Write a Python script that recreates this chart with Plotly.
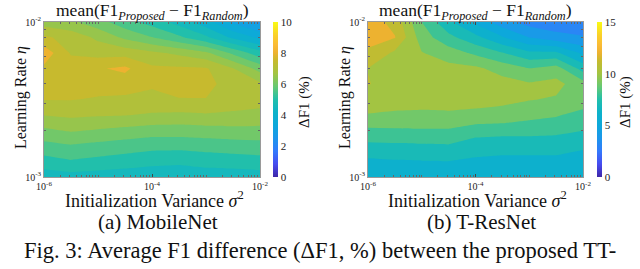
import plotly.graph_objects as go

# ---------------- data ----------------
init_variance = [1e-6, 3.1623e-6, 1e-5, 3.1623e-5, 1e-4, 3.1623e-4, 1e-3, 3.1623e-3, 1e-2]
learning_rate = [1e-3, 1.2589e-3, 1.5849e-3, 1.9953e-3, 2.5119e-3, 3.1623e-3,
                 3.9811e-3, 5.0119e-3, 6.3096e-3, 7.9433e-3, 1e-2]

# mean(F1_Proposed - F1_Random), rows = learning rate (low -> high), cols = variance
mobilenet_df1 = [
    [4.70, 4.80, 4.75, 4.70, 4.65, 4.65, 4.70, 4.70, 4.75],
    [5.30, 5.45, 5.35, 5.25, 5.15, 5.10, 5.20, 5.25, 5.30],
    [5.82, 5.95, 5.85, 5.75, 5.65, 5.65, 5.70, 5.75, 5.80],
    [6.40, 6.55, 6.45, 6.35, 6.25, 6.25, 6.30, 6.35, 6.35],
    [7.02, 7.10, 7.05, 7.02, 6.95, 6.90, 6.95, 6.90, 6.85],
    [7.52, 7.52, 7.45, 7.40, 7.30, 7.48, 7.49, 7.30, 7.20],
    [7.70, 7.70, 7.70, 7.75, 7.60, 7.65, 7.60, 7.35, 7.10],
    [7.90, 7.75, 7.95, 8.10, 7.60, 7.58, 7.55, 7.02, 6.30],
    [8.30, 7.45, 7.30, 7.30, 7.10, 6.90, 6.60, 5.90, 5.20],
    [7.60, 7.30, 6.90, 6.40, 6.02, 5.60, 5.10, 4.40, 3.90],
    [6.75, 6.60, 6.20, 5.70, 5.30, 4.80, 4.20, 3.40, 2.80],
]

tresnet_df1 = [
    [6.40, 6.30, 6.35, 6.40, 6.40, 6.40, 6.40, 6.40, 6.40],
    [6.80, 6.90, 6.95, 6.98, 6.85, 6.80, 6.80, 6.80, 6.70],
    [7.75, 7.80, 7.85, 7.90, 7.40, 7.30, 7.30, 7.30, 7.10],
    [8.80, 8.85, 8.90, 8.90, 8.50, 8.40, 8.40, 8.30, 8.02],
    [9.95, 9.85, 9.80, 9.85, 9.75, 9.70, 9.30, 9.10, 8.65],
    [10.50, 10.40, 10.40, 10.40, 10.35, 10.20, 10.05, 9.90, 9.60],
    [11.05, 10.60, 10.50, 10.50, 10.45, 10.40, 10.10, 10.30, 9.40],
    [10.98, 10.70, 10.40, 10.30, 10.20, 9.60, 9.02, 9.45, 7.60],
    [11.90, 10.80, 10.05, 9.50, 8.80, 8.05, 7.20, 7.20, 5.80],
    [12.20, 12.05, 9.50, 8.30, 7.30, 6.10, 5.00, 4.40, 4.10],
    [12.50, 11.70, 9.00, 7.20, 5.80, 4.40, 3.60, 3.30, 3.20],
]

x_ticks = [1e-6, 1e-4, 1e-2]
x_tick_text = ["10<sup>-6</sup>", "10<sup>-4</sup>", "10<sup>-2</sup>"]
y_ticks = [1e-3, 1e-2]
y_tick_text = ["10<sup>-3</sup>", "10<sup>-2</sup>"]
x_minor = [m * d for d in [1e-6, 1e-5, 1e-4, 1e-3] for m in range(2, 11)]
y_minor = [m * 1e-3 for m in range(2, 10)]

cbar_left_ticks = [0, 2, 4, 6, 8, 10]
cbar_right_ticks = [0, 5, 10, 15]

# MATLAB parula approximation
PARULA = [
    (0.000, (0.2422, 0.1504, 0.6603)),
    (0.083, (0.2780, 0.3000, 0.9400)),
    (0.167, (0.2000, 0.4800, 0.9900)),
    (0.250, (0.1100, 0.5900, 0.9200)),
    (0.333, (0.0500, 0.6600, 0.8600)),
    (0.417, (0.0500, 0.7000, 0.7900)),
    (0.500, (0.1300, 0.7500, 0.6700)),
    (0.583, (0.4000, 0.7900, 0.4500)),
    (0.667, (0.6400, 0.7700, 0.2600)),
    (0.750, (0.7800, 0.7300, 0.1800)),
    (0.800, (0.9300, 0.7000, 0.1900)),
    (0.850, (0.9800, 0.7300, 0.2100)),
    (0.917, (0.9800, 0.8200, 0.1600)),
    (1.000, (0.9769, 0.9839, 0.0805)),
]


def rgb(c):
    return "rgb(%d,%d,%d)" % tuple(round(255 * v) for v in c)


def parula(t):
    t = min(max(t, 0.0), 1.0)
    for (p0, c0), (p1, c1) in zip(PARULA[:-1], PARULA[1:]):
        if t <= p1:
            f = (t - p0) / (p1 - p0)
            return rgb(tuple(a + (b - a) * f for a, b in zip(c0, c1)))
    return rgb(PARULA[-1][1])


parula_scale = [[p, rgb(c)] for p, c in PARULA]


def band_scale(start, end, size, cmax):
    # MATLAB contourf: band above level L gets colour of L
    nc = int(round((end - start) / size)) + 1
    stops = [[0.0, parula((start - size) / cmax)]]
    for j in range(1, nc + 1):
        stops.append([j / nc, parula((start + (j - 1) * size) / cmax)])
    return stops


FONT = "Liberation Serif"
W, H = 640, 269

panels = [
    dict(z=mobilenet_df1, xd=(44, 260), cb=273, start=2.0, end=9.5, size=0.5, cmax=10,
         cticks=cbar_left_ticks, ax="", cap="(a) MobileNet", cbt=31),
    dict(z=tresnet_df1, xd=(368, 583), cb=597, start=1.0, end=14.0, size=1.0, cmax=15,
         cticks=cbar_right_ticks, ax="2", cap="(b) T-ResNet", cbt=28),
]
top, bottom = 22, 177

fig = go.Figure()
annotations = []
for p in panels:
    xa = "x" + p["ax"]
    ya = "y" + p["ax"]
    fig.add_trace(go.Contour(
        x=init_variance, y=learning_rate, z=p["z"], xaxis=xa, yaxis=ya,
        autocontour=False,
        contours=dict(start=p["start"], end=p["end"], size=p["size"],
                      coloring="fill", showlines=False),
        line=dict(width=0, smoothing=0),
        colorscale=band_scale(p["start"], p["end"], p["size"], p["cmax"]),
        showscale=False, hoverinfo="skip"))
    fig.add_trace(go.Scatter(
        x=[init_variance[0]], y=[learning_rate[0]], xaxis=xa, yaxis=ya, mode="markers",
        showlegend=False, hoverinfo="skip",
        marker=dict(size=1, opacity=0, color=[0], cmin=0, cmax=p["cmax"],
                    colorscale=parula_scale, showscale=True,
                    colorbar=dict(x=p["cb"] / W, xanchor="left", y=1 - top / H, yanchor="top",
                                  len=bottom - top, lenmode="pixels", thickness=5,
                                  thicknessmode="pixels", outlinewidth=0, ticks="",
                                  tickvals=p["cticks"], xpad=0, ypad=0,
                                  tickfont=dict(family=FONT, size=11, color="#222")))))
    axis_common = dict(type="log", ticks="inside", ticklen=3, tickcolor="#444",
                       showline=True, linecolor="#9a9a9a", linewidth=1, mirror="ticks",
                       showgrid=False, zeroline=False,
                       tickfont=dict(family=FONT, size=10, color="#222"))
    fig.update_layout(**{
        "xaxis" + p["ax"]: dict(axis_common, range=[-6, -2],
                               domain=[p["xd"][0] / W, p["xd"][1] / W], anchor=ya,
                               tickvals=x_ticks, ticktext=x_tick_text,
                               minor=dict(tickvals=x_minor, ticks="inside", ticklen=2,
                                          tickcolor="#666")),
        "yaxis" + p["ax"]: dict(axis_common, range=[-3, -2],
                               domain=[1 - bottom / H, 1 - top / H], anchor=xa,
                               tickvals=y_ticks, ticktext=y_tick_text,
                               minor=dict(tickvals=y_minor, ticks="inside", ticklen=2,
                                          tickcolor="#666")),
    })
    cx = (p["xd"][0] + p["xd"][1]) / 2
    annotations += [
        dict(text="mean(F1<sub><i>Proposed</i></sub> − F1<sub><i>Random</i></sub>)",
             x=cx / W, y=1 - 11 / H, font=dict(size=17.5)),
        dict(text="Initialization Variance <i>σ</i><sup>2</sup>", x=(cx + 2) / W, y=1 - 199 / H,
             font=dict(size=18)),
        dict(text="Learning Rate <i>η</i>", x=(p["xd"][0] - 23) / W, y=1 - 98 / H,
             textangle=-90, font=dict(size=16)),
        dict(text="ΔF1 (%)", x=(p["cb"] + p["cbt"]) / W, y=1 - 102 / H, textangle=-90,
             font=dict(size=15)),
        dict(text=p["cap"], x=(cx + 6) / W, y=1 - 222 / H, font=dict(size=21)),
    ]

annotations.append(dict(text="Fig. 3: Average F1 difference (ΔF1, %) between the proposed TT-",
                        x=0.5, y=1 - 250 / H, font=dict(size=22.5)))
for a in annotations:
    a.update(xref="paper", yref="paper", showarrow=False, xanchor="center", yanchor="middle")
    a["font"].update(family=FONT, color="#111")

fig.update_layout(width=W, height=H, margin=dict(l=0, r=0, t=0, b=0, autoexpand=False),
                  paper_bgcolor="white", plot_bgcolor="white", showlegend=False,
                  font=dict(family=FONT, color="#111"), annotations=annotations)

fig.write_html("out.html", config={"displayModeBar": False, "staticPlot": True},
               post_script="document.body.style.margin='0';document.body.style.overflow='hidden';")
